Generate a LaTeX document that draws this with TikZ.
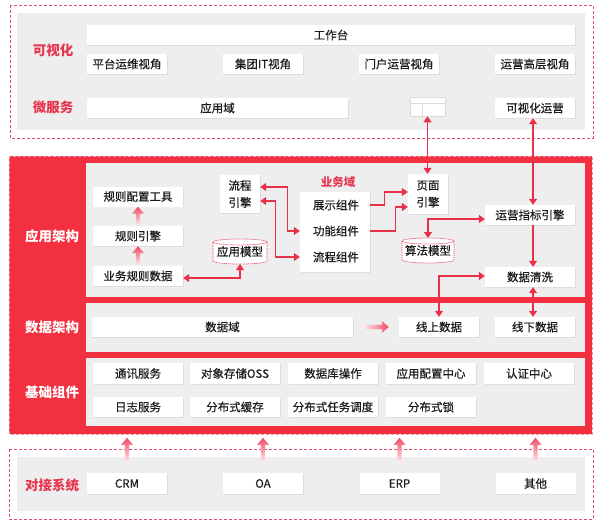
\documentclass[tikz,border=0pt]{standalone}
\usepackage{fontspec}
\setmainfont{Noto Sans CJK SC}
\newfontfamily\boxfont{Noto Sans CJK SC}[FakeBold=0.35]
\usetikzlibrary{calc,arrows.meta,shadows}
\definecolor{mainred}{HTML}{F2303F}
\definecolor{labred}{HTML}{E8354F}
\definecolor{dashred}{HTML}{E0506E}
\definecolor{panel}{HTML}{EFEEEE}
\definecolor{arr}{HTML}{E8304A}
\definecolor{fadered}{HTML}{F04A66}
\definecolor{txt}{HTML}{1A1A1A}
\newcommand\fadeup[2]{\shade[top color=fadered, bottom color=fadered!8] ($(#1)+(-2.2,0)$) -- ($(#2)+(-2.2,7)$) -- ($(#2)+(-6,7)$) -- (#2) -- ($(#2)+(6,7)$) -- ($(#2)+(2.2,7)$) -- ($(#1)+(2.2,0)$) -- cycle;}
\newcommand\faderight[2]{\shade[left color=fadered!8, right color=fadered] ($(#1)+(0,-2.2)$) -- ($(#2)+(-7,-2.2)$) -- ($(#2)+(-7,-6)$) -- (#2) -- ($(#2)+(-7,6)$) -- ($(#2)+(-7,2.2)$) -- ($(#1)+(0,2.2)$) -- cycle;}
\newcommand\mycyl[3]{%
  \filldraw[cylst] ($(#1)+(-#2,-#3+3)$) -- ($(#1)+(-#2,#3-3)$) arc[start angle=180,end angle=360,x radius=#2pt,y radius=3pt] -- ($(#1)+(#2,-#3+3)$) arc[start angle=0,end angle=180,x radius=#2pt,y radius=3pt] -- cycle;
  \draw[cylst] ($(#1)+(-#2,-#3+3)$) arc[start angle=180,end angle=360,x radius=#2pt,y radius=3pt];}
\tikzset{
  tipA/.tip={Triangle[length=6pt,width=8pt]},
  box/.style={fill=white, text=txt, font=\boxfont\fontsize{11.5}{13}\selectfont, inner sep=0pt,
    minimum height=20pt, minimum width=80pt,
    drop shadow={shadow xshift=0.7pt, shadow yshift=-0.9pt, opacity=0.15}},
  tbox/.style={box, minimum width=40pt, align=center, font=\boxfont\fontsize{11.5}{17}\selectfont},
  btxt/.style={text=txt, font=\boxfont\fontsize{11.5}{13}\selectfont, inner sep=0pt},
  lab/.style={font=\fontsize{13.5}{15}\selectfont\bfseries, text=labred, inner sep=0pt},
  wlab/.style={lab, text=white},
  dashbox/.style={draw=dashred, densely dashed, line width=0.7pt},
  cylst/.style={fill=white, draw=arr, line width=0.8pt, dash pattern=on 1pt off 1pt},
  conn/.style={draw=arr, line width=1.2pt, -tipA},
  dconn/.style={draw=arr, line width=1.2pt, tipA-tipA},
}
\begin{document}
\begin{tikzpicture}[x=1pt,y=-1pt]
\useasboundingbox (0,0) rectangle (604,527);
% ---------- top section
\draw[dashbox] (10,5) rectangle (593,138);
\fill[panel] (17,13) rectangle (585,130);
\node[lab] (lkv) at (53,50) {可视化};
\node[lab] (lwf) at (53,107) {微服务};
\node[box, minimum width=488pt] (gzt) at (331,35) {工作台};
\node[box] (ptyw) at (127,64) {平台运维视角};
\node[box] (jtit) at (263,64) {集团IT视角};
\node[box] (mhyy) at (399,64) {门户运营视角};
\node[box] (gcsj) at (535,64) {运营高层视角};
\node[box, minimum width=261pt] (yyy) at (217.5,108) {应用域};
\node[box, minimum width=35pt, minimum height=19pt, draw=black!15, line width=0.6pt] (tbl) at (427.5,106.5) {};
\draw[black!15, line width=0.6pt] ([yshift=-7pt]tbl.north west) -- ([yshift=-7pt]tbl.north east);
\draw[black!15, line width=0.6pt] ([xshift=13pt,yshift=-7pt]tbl.north west) -- ([xshift=13pt]tbl.south west);
\node[box] (kshy) at (535,108) {可视化运营};
% ---------- red section
\fill[mainred] (9,156) rectangle (592,434);
\draw[draw=dashred!60, densely dashed, line width=0.6pt] (9,156) rectangle (592,434);
\fill[panel] (86,163) rectangle (585,297);
\fill[panel] (86,303) rectangle (585,352);
\fill[panel] (86,358) rectangle (585,426);
\node[wlab] (lyyjg) at (52,236) {应用架构};
\node[wlab] (lsjjg) at (52,327) {数据架构};
\node[wlab] (ljczj) at (52,392) {基础组件};
% application architecture
\node[box, minimum width=90pt] (gzpz) at (138,196.5) {规则配置工具};
\node[box, minimum width=90pt] (gzyq) at (138,236) {规则引擎};
\node[box, minimum width=90pt] (ywgz) at (138,276) {业务规则数据};
\node[tbox, minimum height=38pt] (lcyq) at (240,194) {流程\\引擎};
\coordinate (yymxc) at (240,251.5);
\mycyl{yymxc}{27}{12.5}
\node[btxt] (yymx) at (yymxc) {应用模型};
\coordinate (yymxb) at (240,264);
\node[font=\fontsize{11.5}{13}\selectfont\bfseries, text=labred, inner sep=0pt] (ywyl) at (338,182) {业务域};
\node[box, minimum width=70pt, minimum height=80pt] (ywy) at (335,232) {};
\node[btxt] (zszj) at (336,205) {展示组件};
\node[btxt] (gnzj) at (336,231) {功能组件};
\node[btxt] (lczj) at (336,257) {流程组件};
\node[tbox, minimum height=40pt] (ymyq) at (428,194) {页面\\引擎};
\node[box, minimum width=90pt] (yyzb) at (530,215) {运营指标引擎};
\coordinate (sfmxc) at (428,250.5);
\mycyl{sfmxc}{26}{12.5}
\node[btxt] (sfmx) at (sfmxc) {算法模型};
\coordinate (sfmxt) at (428,238);
\node[box, minimum width=90pt] (sjqx) at (530,277) {数据清洗};
% data architecture
\node[box, minimum width=261pt] (sjy) at (222.5,327) {数据域};
\node[box] (xssj) at (439,327) {线上数据};
\node[box] (xxsj) at (535,327) {线下数据};
% base components
\node[box, minimum width=90pt, minimum height=21pt] (txfw) at (138,373.5) {通讯服务};
\node[box, minimum width=90pt, minimum height=21pt] (dxcc) at (235,373.5) {对象存储OSS};
\node[box, minimum width=90pt, minimum height=21pt] (sjkcz) at (333,373.5) {数据库操作};
\node[box, minimum width=90pt, minimum height=21pt] (yypz) at (431,373.5) {应用配置中心};
\node[box, minimum width=90pt, minimum height=21pt] (rzzx) at (529,373.5) {认证中心};
\node[box, minimum width=90pt] (rzfw) at (138,407) {日志服务};
\node[box, minimum width=90pt] (fbhc) at (235,407) {分布式缓存};
\node[box, minimum width=90pt] (fbrw) at (333,407) {分布式任务调度};
\node[box, minimum width=90pt] (fbs) at (431,407) {分布式锁};
% ---------- bottom section
\draw[dashbox] (9,449) rectangle (593,519);
\fill[panel] (17,457) rectangle (585,511);
\node[lab] (ldj) at (52,485) {对接系统};
\node[box, minimum height=21pt] (crm) at (127,483.5) {CRM};
\node[box, minimum height=21pt] (oa) at (263,483.5) {OA};
\node[box, minimum height=21pt] (erp) at (399.5,483.5) {ERP};
\node[box, minimum height=21pt] (qt) at (535.5,483.5) {其他};
% ---------- connectors
\draw[dconn] (tbl.south) -- (tbl.south |- ymyq.north);
\draw[dconn] ([xshift=-2pt]kshy.south) -- ([xshift=-2pt]kshy.south |- yyzb.north);
\draw[dconn] ([yshift=7pt]lcyq.east) -- ++(27,0) |- (ywy.west |- gnzj);
\draw[dconn] ([yshift=-7pt]lcyq.east) -- ++(15,0) |- (ywy.west |- lczj);
\draw[dconn] ([yshift=-2pt]ywgz.east) -| (yymxb);
\draw[conn] (ywy.east |- zszj) -- ++(14,0) |- ([yshift=2pt]ymyq.west);
\draw[conn] (ywy.east |- gnzj) -- ++(25,0) |- ([yshift=-13pt]ymyq.west);
\draw[dconn] ([yshift=-4pt]yyzb.west) -| (sfmxt);
\draw[conn] ([xshift=3pt]yyzb.south) -- ([xshift=3pt]yyzb.south |- sjqx.north);
\draw[dconn] ([yshift=1pt]sjqx.west) -| (xssj.north);
\draw[dconn] ([xshift=3pt]sjqx.south) -- ([xshift=3pt]sjqx.south |- xxsj.north);
% fading arrows
\fadeup{ywgz.north}{gzyq.south}
\fadeup{gzyq.north}{gzpz.south}
\coordinate (h1) at ($(sjy.east)+(9,0)$);
\coordinate (h2) at ($(xssj.west)+(-10,0)$);
\faderight{h1}{h2}
\foreach \n/\k in {crm/1,oa/2,erp/3,qt/4}{
  \coordinate (fa\k) at ($(\n.north)+(0,-10)$);
  \coordinate (fb\k) at ($(\n.north)+(0,-35)$);
  \fadeup{fa\k}{fb\k}
}
\end{tikzpicture}
\end{document}
